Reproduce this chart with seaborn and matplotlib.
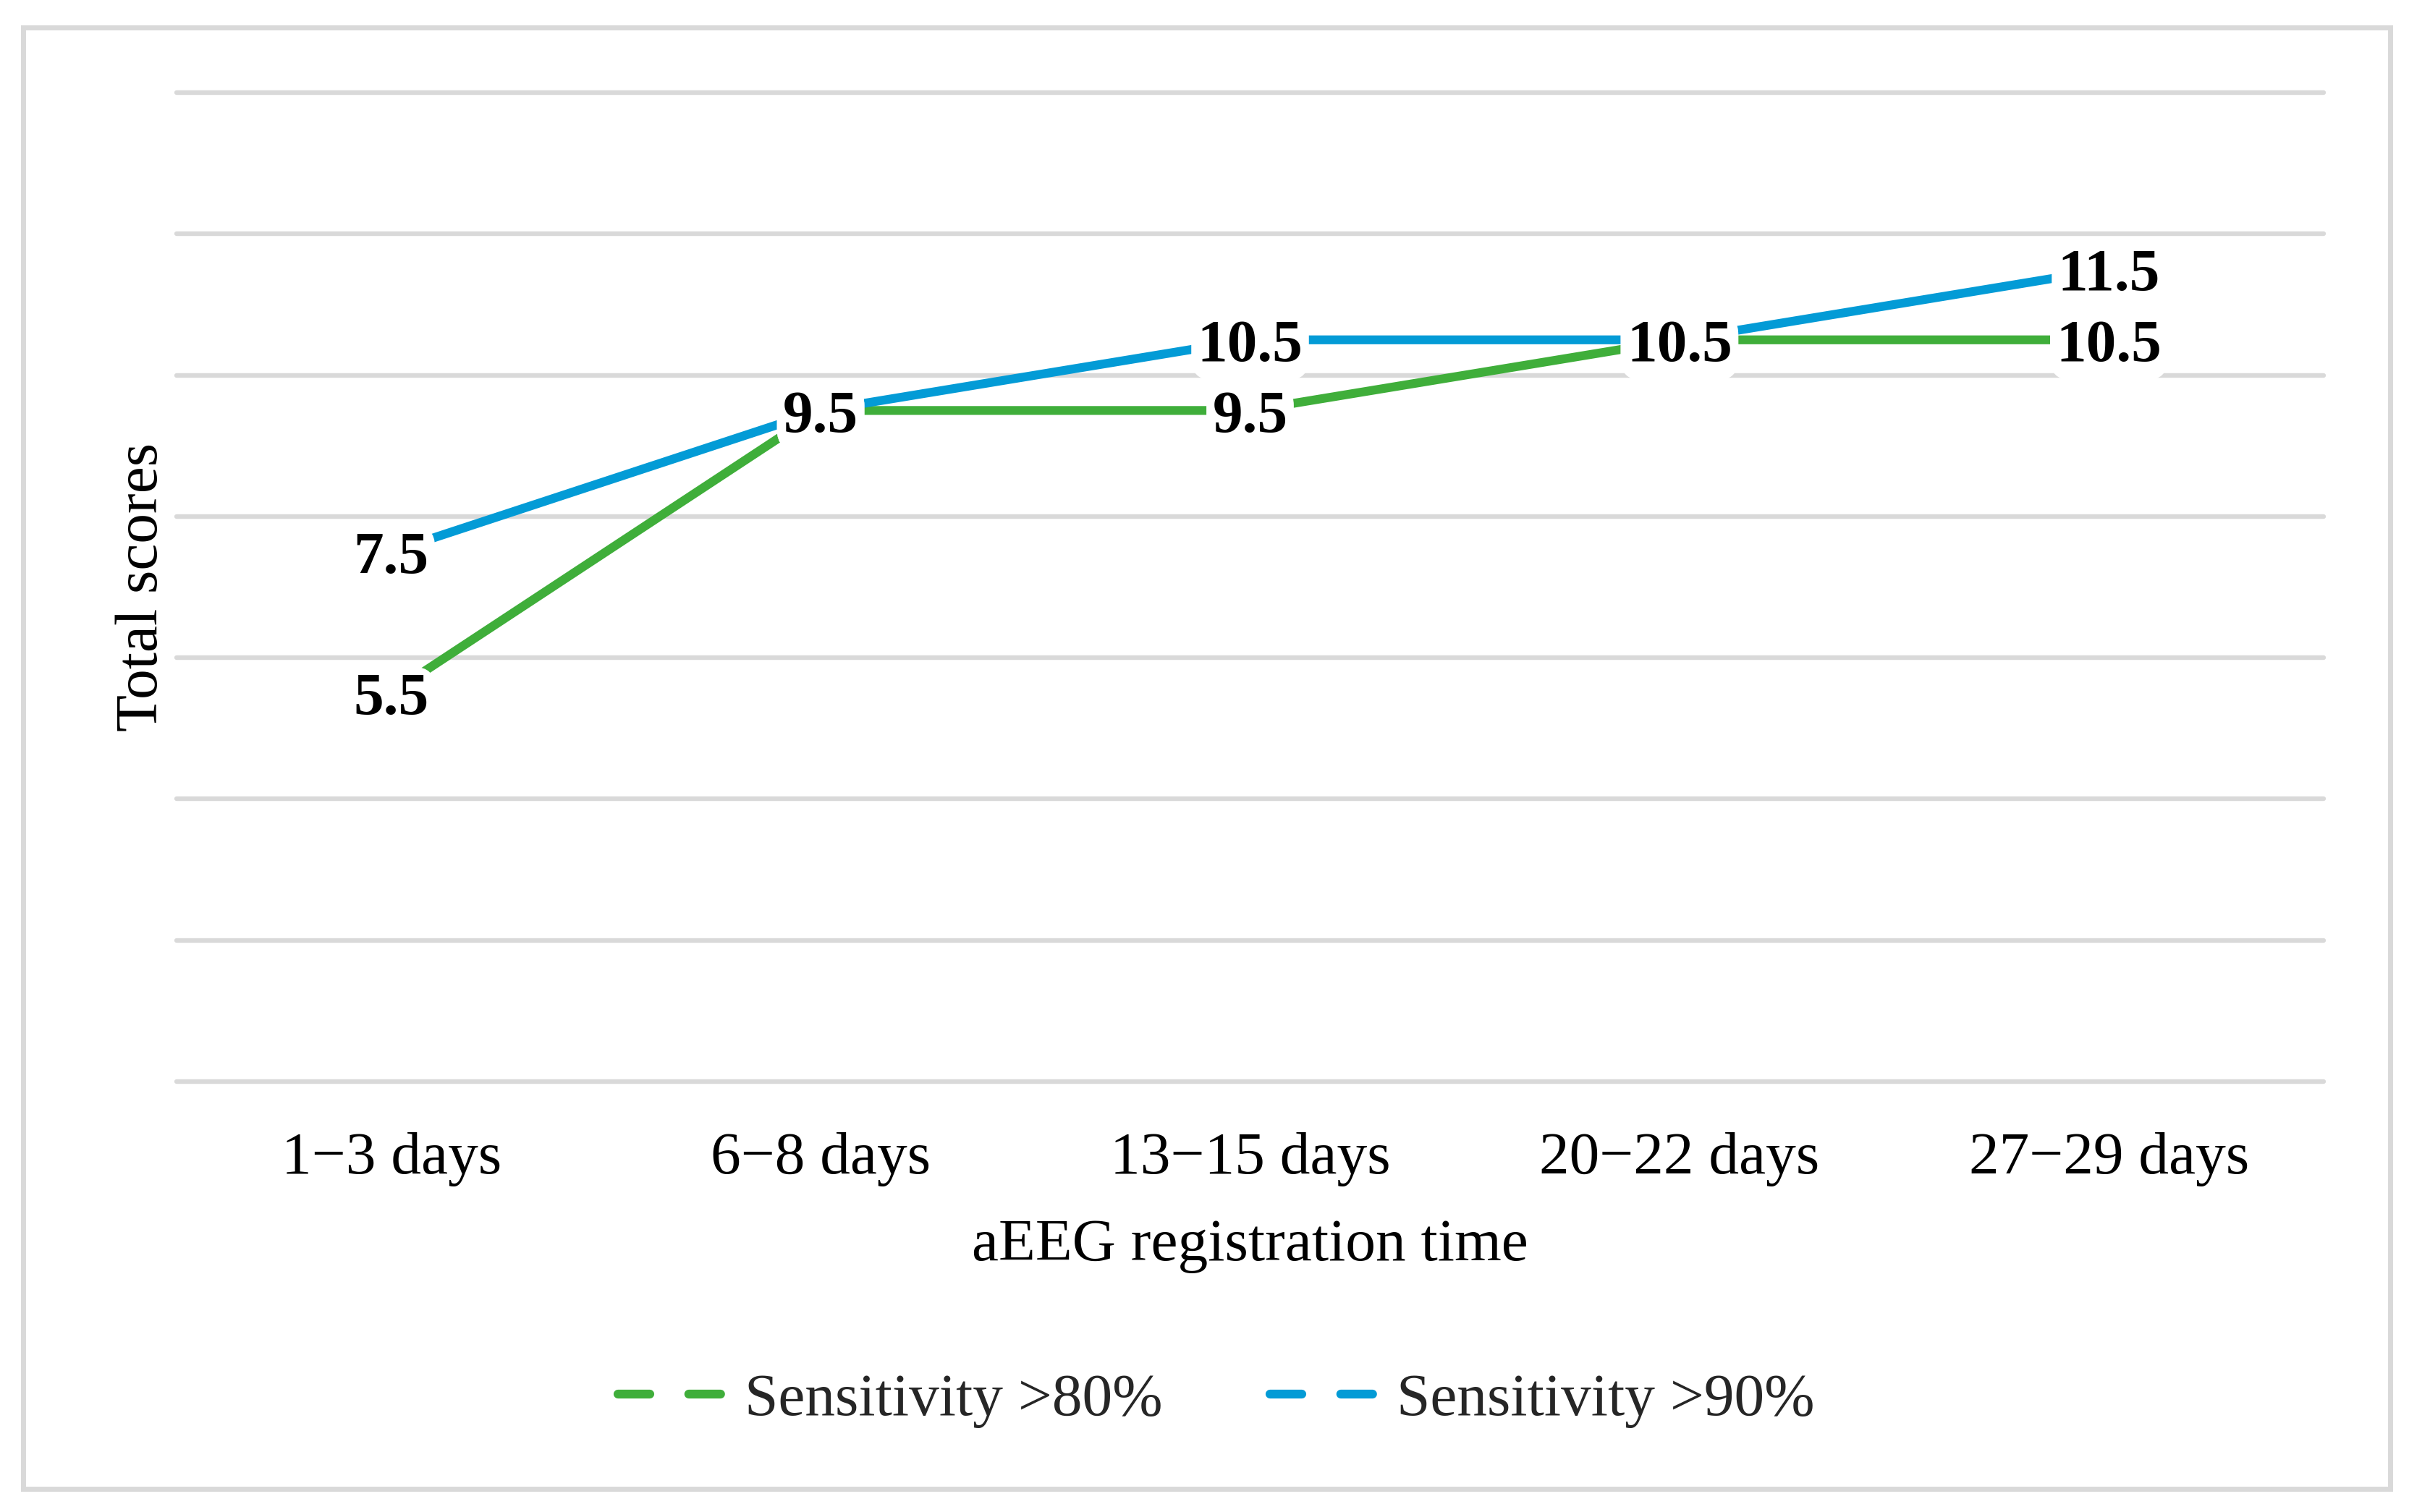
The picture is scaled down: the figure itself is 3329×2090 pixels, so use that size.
import matplotlib
matplotlib.use('Agg')
import matplotlib.pyplot as plt
import seaborn as sns
import pandas as pd
from matplotlib.lines import Line2D
from matplotlib.patches import Rectangle

# ---- data ----
categories = ['1\u22123 days', '6\u22128 days', '13\u221215 days', '20\u221222 days', '27\u221229 days']
sens80 = [5.5, 9.5, 9.5, 10.5, 10.5]
sens90 = [7.5, 9.5, 10.5, 10.5, 11.5]
series_names = ['Sensitivity >80%', 'Sensitivity >90%']
colors = ['#3FAE3A', '#039BD6']
y_ticks = [0, 2, 4, 6, 8, 10, 12, 14]

sns.set_theme(style='white')
plt.rcParams['font.family'] = ['Liberation Serif', 'DejaVu Serif']

W, H = 3329, 2090
DPI = 200
LW = 4.4
fig = plt.figure(figsize=(W / DPI, H / DPI), dpi=DPI)
fig.patch.set_facecolor('white')

# plot area (pixel coordinates measured on reference)
L, R, T, B = 244, 3211, 128, 1495
ax = fig.add_axes([L / W, 1 - B / H, (R - L) / W, (B - T) / H])

df = pd.DataFrame({
    'time': categories * 2,
    'score': sens80 + sens90,
    'series': [series_names[0]] * len(categories) + [series_names[1]] * len(categories),
})

sns.lineplot(data=df, x='time', y='score', hue='series', hue_order=series_names,
             palette=colors, linewidth=LW, legend=False, ax=ax, sort=False,
             zorder=3, solid_capstyle='butt')

ax.set_xlim(-0.5, len(categories) - 0.5)
ax.set_ylim(y_ticks[0], y_ticks[-1])
ax.set_yticks(y_ticks)
ax.set_yticklabels([])
ax.grid(axis='y', color='#D9D9D9', linewidth=2.3, zorder=0)
ax.grid(axis='x', visible=False)
for sp in ax.spines.values():
    sp.set_visible(False)
ax.tick_params(axis='both', length=0)
ax.tick_params(axis='x', labelsize=30, pad=25, colors='black')
for gl in ax.get_ygridlines():
    gl.set_clip_on(False)

# data labels
for vals in (sens80, sens90):
    for i, v in enumerate(vals):
        ax.annotate(f'{v:g}', xy=(i, v), xytext=(0, -3.5), textcoords='offset points',
                    ha='center', va='center', fontsize=30,
                    fontweight='bold', color='black', zorder=5,
                    bbox=dict(boxstyle='round,pad=0.1,rounding_size=0.35',
                              fc='white', ec='none'))

ax.set_xlabel('aEEG registration time', fontsize=30, color='black')
ax.xaxis.set_label_coords(0.5, (B - 1684) / (B - T))
ax.set_ylabel('Total scores', fontsize=30, color='black')
ax.yaxis.set_label_coords((235 - L) / (R - L), 0.5)

# legend (dashed handles like the reference)
handles = [Line2D([0], [0], color=c, linewidth=LW, linestyle=(0, (3.6, 4.4)),
                  dash_capstyle='round') for c in colors]
fig.legend(handles, series_names, loc='center',
           bbox_to_anchor=(1681 / W, 1 - 1936 / H), ncol=2, frameon=False,
           fontsize=30, handlelength=1.9, handletextpad=0.2, columnspacing=1.78)

# outer chart border
fig.add_artist(Rectangle((31.5 / W, 1 - 2058 / H), (3302.5 - 31.5) / W,
                         (2058 - 37.5) / H, transform=fig.transFigure,
                         fill=False, edgecolor='#D9D9D9', linewidth=2.5))

fig.savefig('out.png', dpi=DPI, facecolor='white')
